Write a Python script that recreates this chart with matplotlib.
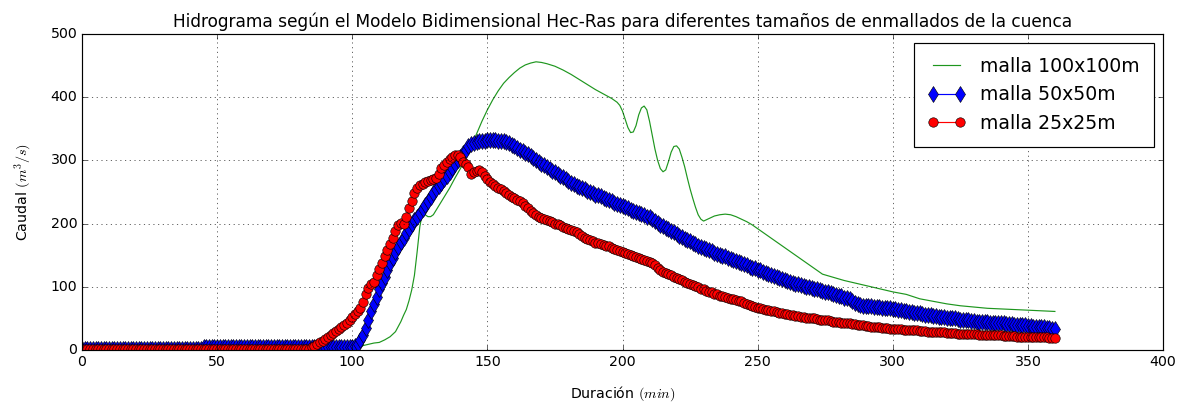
import numpy as np
import matplotlib
matplotlib.use("Agg")
import matplotlib.pyplot as plt

plt.style.use("classic")
plt.rcParams["font.family"] = ["DejaVu Sans"]

# ---------------- data ----------------
# malla 100x100m (line only)
t_100 = [0, 100, 102, 104, 106, 108, 110, 112, 114, 116, 118, 119, 120, 121, 122, 123, 124, 125,
         126, 127, 128, 129, 130, 132, 134, 136, 138, 140, 142, 144, 146, 148, 150, 152, 154, 156,
         158, 160, 162, 164, 166, 168, 170, 172, 175, 178, 181, 184, 187, 190, 193, 196, 198, 199,
         200, 201, 202, 203, 204, 205, 206, 207, 208, 209, 210, 211, 212, 213, 214, 215, 216, 217,
         218, 219, 220, 221, 222, 223, 224, 225, 226, 227, 228, 229, 230, 232, 234, 236, 238, 240,
         242, 244, 246, 248, 250, 254, 258, 262, 266, 270, 274, 278, 282, 286, 290, 295, 300, 305,
         310, 315, 320, 325, 330, 335, 340, 345, 350, 355, 360]
q_100 = [0, 1, 4, 7, 9, 11, 12, 16, 21, 29, 45, 55, 64, 78, 95, 118, 155, 195,
         218, 214, 211, 211, 214, 228, 242, 256, 272, 287, 303, 322, 342, 362, 380, 396, 410, 422,
         431, 439, 446, 451, 454, 456, 455, 453, 449, 443, 436, 428, 420, 412, 405, 398, 392, 387,
         378, 365, 352, 344, 345, 355, 372, 383, 386, 380, 362, 340, 318, 300, 287, 282, 285, 298,
         313, 322, 323, 318, 305, 290, 272, 255, 240, 226, 214, 207, 204, 208, 212, 214, 215, 214,
         211, 207, 203, 198, 192, 180, 168, 156, 144, 132, 120, 115, 110, 106, 102, 97, 92, 88,
         81, 77, 73, 70, 68, 66, 65, 64, 63, 62, 61]

# minutes 0..360 for the 50x50 and 25x25 meshes
t_min = np.arange(0, 361)

q_50 = [
    2, 2, 2, 2, 2, 2, 2, 2, 2, 2,            # 0
    2, 2, 2, 2, 2, 2, 2, 2, 2, 2,            # 10
    2, 2, 2, 2, 2, 2, 2, 2, 2, 2,            # 20
    2, 2, 2, 2, 2, 2, 2, 2, 2, 2,            # 30
    2, 2, 2, 2, 2, 4, 4, 4, 4, 4,            # 40
    4, 4, 4, 4, 4, 4, 4, 4, 4, 4,            # 50
    4, 4, 4, 4, 4, 4, 4, 4, 4, 4,            # 60
    4, 4, 4, 4, 4, 4, 4, 4, 4, 4,            # 70
    4, 4, 4, 4, 4, 4, 4, 4, 4, 4,            # 80
    4, 4, 4, 4, 4, 4, 4, 4, 4, 4,            # 90
    4, 6, 10, 16, 24, 35, 48, 61, 72, 84,    # 100
    96, 106, 116, 127, 137, 146, 155, 163, 171, 178,   # 110
    185, 192, 199, 205, 211, 217, 223, 229, 236, 242,  # 120
    248, 254, 260, 265, 271, 276, 282, 288, 294, 300,  # 130
    306, 312, 317, 322, 326, 327, 329, 330, 331, 331,  # 140
    332, 332, 332, 332, 331, 331, 330, 329, 327, 325,  # 150
    322, 320, 317, 315, 312, 310, 307, 304, 301, 298,  # 160
    295, 292, 290, 287, 284, 281, 278, 275, 273, 270,  # 170
    268, 265, 263, 260, 258, 256, 254, 252, 250, 248,  # 180
    246, 245, 243, 241, 239, 237, 235, 233, 231, 229,  # 190
    228, 226, 224, 222, 220, 218, 217, 215, 213, 211,  # 200
    210, 207, 204, 201, 198, 196, 193, 191, 188, 186,  # 210
    183, 181, 179, 176, 174, 172, 169, 167, 165, 163,  # 220
    161, 160, 158, 156, 154, 152, 151, 149, 148, 146,  # 230
    144, 143, 141, 139, 137, 136, 134, 132, 130, 129,  # 240
    127, 126, 124, 122, 121, 119, 117, 116, 114, 112,  # 250
    111, 109, 107, 106, 105, 104, 103, 101, 100, 99,   # 260
    98, 97, 96, 95, 94, 92, 91, 90, 88, 87,            # 270
    86, 85, 83, 82, 80, 78, 75, 72, 71, 70,            # 280
    70, 69, 69, 68, 68, 68, 67, 67, 66, 66,            # 290
    65, 65, 64, 63, 62, 61, 60, 60, 59, 58,            # 300
    58, 57, 56, 56, 55, 54, 54, 53, 53, 52,            # 310
    51, 51, 50, 50, 49, 48, 48, 47, 47, 46,            # 320
    46, 45, 45, 45, 44, 44, 43, 43, 43, 42,            # 330
    42, 42, 41, 41, 41, 40, 40, 39, 39, 39,            # 340
    38, 38, 37, 37, 37, 36, 36, 35, 35, 34,            # 350
    34]                                                # 360

q_25 = [
    1, 1, 1, 1, 1, 1, 1, 1, 1, 1,            # 0
    1, 1, 1, 1, 1, 1, 1, 1, 1, 1,            # 10
    1, 1, 1, 1, 1, 1, 1, 1, 1, 1,            # 20
    1, 1, 1, 1, 1, 1, 1, 1, 1, 1,            # 30
    1, 1, 1, 1, 1, 2, 2, 2, 2, 2,            # 40
    2, 2, 2, 2, 2, 2, 2, 2, 2, 2,            # 50
    2, 2, 2, 2, 2, 2, 2, 2, 2, 2,            # 60
    2, 2, 2, 2, 2, 2, 2, 2, 2, 2,            # 70
    2, 2, 2, 2, 2, 4, 6, 9, 12, 15,          # 80
    18, 21, 24, 27, 30, 33, 36, 39, 43, 47,  # 90
    52, 57, 62, 67, 76, 88, 98, 104, 108, 118,         # 100
    128, 138, 148, 158, 168, 178, 188, 198, 201, 199,  # 110
    210, 224, 236, 248, 257, 261, 263, 266, 268, 269,  # 120
    270, 272, 278, 288, 292, 298, 303, 306, 308, 309,  # 130
    305, 298, 294, 289, 279, 281, 284, 285, 282, 276,  # 140
    271, 266, 263, 260, 257, 254, 251, 248, 245, 242,  # 150
    240, 238, 236, 232, 228, 224, 220, 217, 214, 211,  # 160
    209, 207, 205, 204, 202, 200, 199, 197, 195, 193,  # 170
    191, 190, 189, 187, 184, 181, 178, 176, 174, 172,  # 180
    170, 169, 168, 166, 165, 164, 162, 160, 158, 156,  # 190
    155, 153, 152, 150, 149, 147, 145, 144, 143, 141,  # 200
    139, 137, 134, 130, 126, 124, 122, 120, 118, 116,  # 210
    114, 112, 110, 108, 106, 104, 103, 101, 99, 97,    # 220
    96, 94, 92, 91, 89, 88, 86, 85, 84, 83,            # 230
    81, 80, 79, 78, 77, 75, 73, 71, 70, 68,            # 240
    67, 66, 65, 64, 63, 62, 61, 60, 59, 58,            # 250
    57, 57, 56, 55, 54, 54, 53, 52, 51, 51,            # 260
    50, 50, 49, 48, 48, 47, 47, 46, 45, 45,            # 270
    44, 43, 43, 42, 42, 41, 41, 40, 40, 39,            # 280
    38, 38, 37, 37, 36, 36, 35, 35, 35, 34,            # 290
    34, 34, 33, 33, 32, 32, 32, 31, 31, 31,            # 300
    30, 30, 30, 29, 29, 29, 28, 28, 28, 28,            # 310
    27, 27, 27, 27, 26, 26, 26, 26, 25, 25,            # 320
    25, 25, 24, 24, 24, 24, 24, 23, 23, 23,            # 330
    23, 22, 22, 22, 22, 22, 21, 21, 21, 21,            # 340
    21, 21, 20, 20, 20, 20, 20, 20, 19, 19,            # 350
    19]                                                # 360

labels = ["malla 100x100m", "malla 50x50m", "malla 25x25m"]
title = "Hidrograma según el Modelo Bidimensional Hec-Ras para diferentes tamaños de enmallados de la cuenca"

# ---------------- figure ----------------
DPI = 85
fig = plt.figure(figsize=(1188 / DPI, 405 / DPI), dpi=DPI, facecolor="white")
ax = fig.add_axes([82 / 1188, 1 - 350 / 405, (1163 - 82) / 1188, (350 - 34) / 405])

ax.plot(t_100, q_100, "-", color="#1e961e", lw=1.0, label=labels[0])
ax.plot(t_min, q_50, "b-", marker="d", ms=10, mew=0.5, mec="k", label=labels[1])
ax.plot(t_min, q_25, "r-", marker="o", ms=8, mew=0.5, mec="k", label=labels[2])

ax.set_xlim(0, 400)
ax.set_ylim(0, 500)
ax.grid(True)
ax.set_title(title, fontsize=14.4, y=1.005)
ax.set_xlabel("Duración $(min)$", fontsize=12, labelpad=13)
ax.set_ylabel("Caudal $(m^3/s)$", fontsize=12, labelpad=14)
ax.legend(loc="upper right", fontsize=16, numpoints=2, borderpad=0.72)

fig.savefig("out.png", dpi=DPI, facecolor="white")
